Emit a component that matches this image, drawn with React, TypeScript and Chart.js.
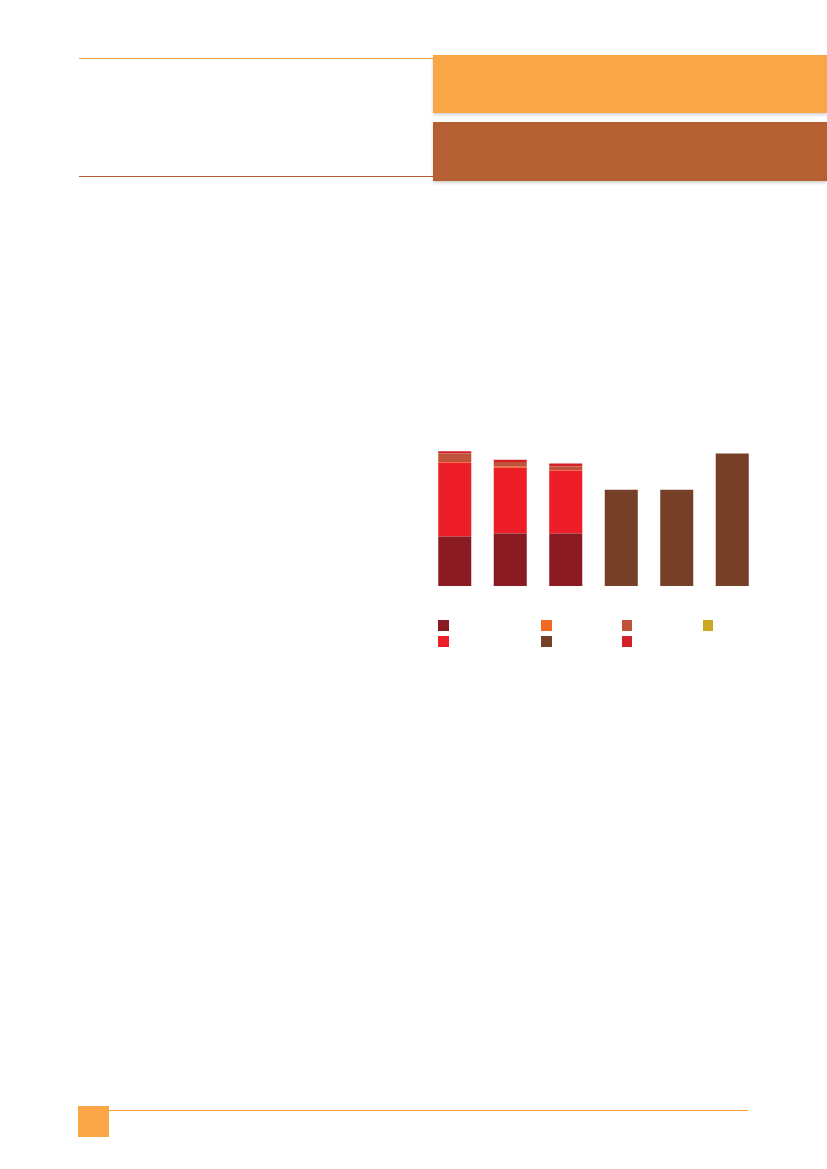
import React, { useEffect, useRef } from "react";
import { Chart, registerables } from "chart.js";

Chart.register(...registerables);

// Categories (labels are not printed in the reference)
const categories = ["C1", "C2", "C3", "C4", "C5", "C6"];

// Series values (stacked, bottom to top)
const seriesDarkRed = [49.6, 52.6, 52.6, 0, 0, 0];
const seriesRed = [73.7, 65.7, 63.0, 0, 0, 0];
const seriesOrange = [0.8, 1.0, 0.3, 0, 0, 0];
const seriesSienna = [8.3, 4.7, 3.7, 0, 0, 0];
const seriesGold = [0, 0, 0, 0, 0, 0];
const seriesBrown = [0, 0, 0, 96.3, 96.3, 132.6];
const seriesCrimson = [2.3, 2.3, 3.0, 0, 0, 0];

const yMax = 140;

type Series = { key: string; data: number[]; color: string };

const stackOrder: Series[] = [
  { key: "darkRed", data: seriesDarkRed, color: "#8A1B23" },
  { key: "red", data: seriesRed, color: "#EE1E28" },
  { key: "orange", data: seriesOrange, color: "#F26A21" },
  { key: "sienna", data: seriesSienna, color: "#C1523A" },
  { key: "gold", data: seriesGold, color: "#CFA821" },
  { key: "brown", data: seriesBrown, color: "#753F28" },
  { key: "crimson", data: seriesCrimson, color: "#D42027" },
];

// legend order as in the reference (row-wise)
const legendOrder = ["darkRed", "orange", "sienna", "gold", "red", "brown", "crimson"];
const legendCols = [438, 541, 621.5, 702.5];
const legendRows = [620.3, 636];

function BarChart() {
  const ref = useRef<HTMLCanvasElement | null>(null);
  useEffect(() => {
    if (!ref.current) return;
    const chart = new Chart(ref.current, {
      type: "bar",
      data: {
        labels: categories,
        datasets: stackOrder.map((s) => ({
          label: s.key,
          data: s.data,
          backgroundColor: s.color,
          borderWidth: 0,
          categoryPercentage: 1,
          barPercentage: 0.595,
        })),
      },
      options: {
        responsive: false,
        animation: false,
        layout: { padding: 0 },
        plugins: { legend: { display: false }, tooltip: { enabled: false } },
        scales: {
          x: { stacked: true, display: false, grid: { display: false } },
          y: { stacked: true, display: false, min: 0, max: yMax, grid: { display: false } },
        },
      },
    });
    return () => chart.destroy();
  }, []);
  return (
    <canvas
      ref={ref}
      width={333}
      height={140}
      style={{ position: "absolute", left: 427, top: 446.3, width: 333, height: 140 }}
    />
  );
}

export default function App() {
  return (
    <div
      style={{
        position: "absolute",
        left: 0,
        top: 0,
        width: 827,
        height: 1169,
        background: "#fff",
        overflow: "hidden",
      }}
    >
      {/* header */}
      <div style={{ position: "absolute", left: 78.5, top: 57.8, width: 355, height: 1, background: "#F6A03A" }} />
      <div style={{ position: "absolute", left: 78.5, top: 175.8, width: 355, height: 1, background: "#B8592B" }} />
      <div
        style={{
          position: "absolute",
          left: 433,
          top: 55,
          width: 394,
          height: 58.3,
          background: "#F9A646",
          boxShadow: "0 2px 3px rgba(0,0,0,0.18)",
        }}
      />
      <div
        style={{
          position: "absolute",
          left: 433,
          top: 121.7,
          width: 394,
          height: 59,
          background: "#B46033",
          boxShadow: "0 2px 3px rgba(0,0,0,0.18)",
        }}
      />

      <BarChart />

      {/* legend swatches */}
      {legendOrder.map((k, i) => {
        const s = stackOrder.find((x) => x.key === k)!;
        const col = i < 4 ? i : i - 4;
        const row = i < 4 ? 0 : 1;
        return (
          <div
            key={k}
            style={{
              position: "absolute",
              left: legendCols[col],
              top: legendRows[row],
              width: 10.5,
              height: 10.5,
              background: s.color,
            }}
          />
        );
      })}

      {/* footer */}
      <div style={{ position: "absolute", left: 78, top: 1105.7, width: 31.3, height: 31.6, background: "#FBA646" }} />
      <div style={{ position: "absolute", left: 109, top: 1109.8, width: 639, height: 1, background: "#F9A030" }} />
    </div>
  );
}
